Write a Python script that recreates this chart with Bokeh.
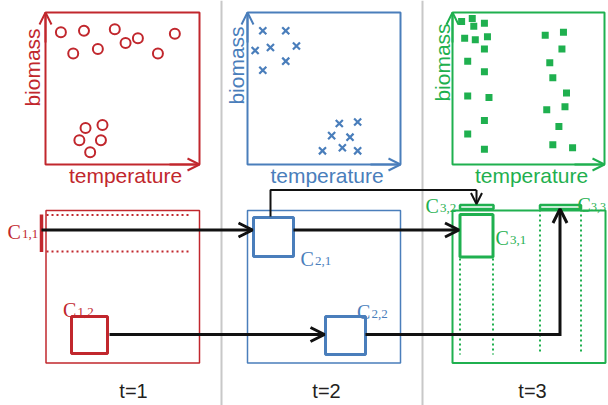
import math
from bokeh.plotting import figure
from bokeh.models import Range1d, Arrow, OpenHead
from bokeh.core.properties import value
from bokeh.embed import file_html
from bokeh.resources import INLINE

# ---------------- data (temperature / biomass, panel units 0-100) ----------------
temp_t1 = [10, 25, 45, 60, 84, 18, 34, 52, 73, 37, 26, 22, 36, 29]
bio_t1 = [87, 88, 89, 83, 86, 73, 76, 80, 73, 26, 24, 16, 16, 8]

temp_t2 = [10, 25, 5, 15, 32, 25, 10, 60, 72, 55, 67, 62, 49, 72]
bio_t2 = [88, 88, 75, 77, 78, 68, 62, 27, 28, 19, 18, 11, 9, 9]

temp_t3 = [6, 13, 14, 21, 8, 15, 23, 21, 10, 21, 10, 24, 21, 10, 21,
           61, 73, 72, 64, 66, 75, 62, 74, 70, 66, 79]
bio_t3 = [94, 96, 91, 93, 83, 82, 84, 76, 68, 61, 45, 44, 29, 20, 10,
          85, 87, 76, 67, 57, 47, 36, 38, 25, 13, 11]

time_labels = ["t=1", "t=2", "t=3"]
axis_x_label = "temperature"
axis_y_label = "biomass"

RED = "#c1272d"
BLUE = "#4a7ebb"
GREEN = "#1fb04f"
GRAY = "#c8c8c8"
BLACK = "#111111"

SANS = value("Liberation Sans")
SERIF = value("Liberation Serif")

# ---------------- figure in picture-pixel coordinates ----------------
W, H = 608, 405
X0, X1, Y0, Y1 = 0, W, 0, H
p = figure(width=W, height=H, x_range=Range1d(X0, X1), y_range=Range1d(Y1, Y0),
           output_backend="svg", toolbar_location=None, min_border=0)
p.axis.visible = False
p.grid.visible = False
p.outline_line_color = None

top_panels = [(45, 199, 12, 164), (247, 400, 12, 164), (452, 604, 12, 164)]
colors = [RED, BLUE, GREEN]

# gray separators
for xs in (221, 422):
    p.line([xs, xs], [0, 410], line_color=GRAY, line_width=2)

# ---------------- top scatter panels ----------------
series = [(temp_t1, bio_t1, "circle", 10), (temp_t2, bio_t2, "x", 10), (temp_t3, bio_t3, "square", 7)]
ylab_x = [32, 236, 442]
ylab_y = [67, 65, 62]
for i, ((L, R, T, B), col, (tx, by, mk, sz)) in enumerate(zip(top_panels, colors, series)):
    p.quad(left=[L], right=[R], top=[T], bottom=[B], fill_color=None, line_color=col, line_width=2)
    p.add_layout(Arrow(end=OpenHead(size=12, line_color=col, line_width=2),
                       x_start=L, y_start=T + 30, x_end=L, y_end=T, line_color=col, line_width=2))
    p.add_layout(Arrow(end=OpenHead(size=12, line_color=col, line_width=2),
                       x_start=R - 30, y_start=B, x_end=R, y_end=B, line_color=col, line_width=2))
    xr = Range1d((X0 - L) / (R - L) * 100, (X1 - L) / (R - L) * 100)
    yr = Range1d((B - Y1) / (B - T) * 100, (B - Y0) / (B - T) * 100)
    p.extra_x_ranges[f"t{i}"] = xr
    p.extra_y_ranges[f"b{i}"] = yr
    if mk == "circle":
        p.scatter(tx, by, x_range_name=f"t{i}", y_range_name=f"b{i}", marker="circle", size=sz,
                  fill_color=None, line_color=col, line_width=2)
    elif mk == "x":
        p.scatter(tx, by, x_range_name=f"t{i}", y_range_name=f"b{i}", marker="x", size=sz,
                  line_color=col, line_width=2.2)
    else:
        p.scatter(tx, by, x_range_name=f"t{i}", y_range_name=f"b{i}", marker="square", size=sz,
                  fill_color=col, line_color=None)
    p.text(x=[(L + R) / 2 + 3], y=[175], text=[axis_x_label], text_font=SANS, text_font_size="21px",
           text_color=col, text_align="center", text_baseline="middle")
    p.text(x=[ylab_x[i]], y=[ylab_y[i]], text=[axis_y_label], text_font=SANS, text_font_size="21px",
           text_color=col, text_align="center", text_baseline="middle", angle=math.pi / 2)

# ---------------- lower boxes ----------------
low_boxes = [(45.5, 199, 210, 362.5), (247, 400, 210, 362.5), (452, 605, 210, 362.5)]
for (L, R, T, B), col in zip(low_boxes, colors):
    p.quad(left=[L], right=[R], top=[T], bottom=[B], fill_color=None, line_color=col,
           line_width=2 if col == GREEN else 1.5)

for yy in (214.5, 251):
    p.line([46, 189], [yy, yy], line_color=RED, line_width=2, line_dash="2 3")
p.line([41, 41], [214, 251.5], line_color=RED, line_width=3.5)
p.quad(left=[71], right=[107], top=[316], bottom=[353], fill_color=None, line_color=RED, line_width=3)

p.quad(left=[253], right=[293], top=[217], bottom=[256], fill_color=None, line_color=BLUE, line_width=3)
p.quad(left=[325], right=[365], top=[316], bottom=[354], fill_color=None, line_color=BLUE, line_width=3)

p.quad(left=[459.5], right=[493], top=[204.5], bottom=[208.5], fill_color=None, line_color=GREEN, line_width=2.5)
p.quad(left=[539.5], right=[580.5], top=[204.5], bottom=[208.5], fill_color=None, line_color=GREEN, line_width=2.5)
p.quad(left=[459.5], right=[492.5], top=[214], bottom=[256.5], fill_color=None, line_color=GREEN, line_width=3)
for xx, y0 in ((459.5, 258), (492.5, 258), (539.5, 209), (580.5, 209)):
    p.line([xx, xx], [y0, 354], line_color=GREEN, line_width=2, line_dash="2 3")

# ---------------- black flow arrows ----------------
def arrow(x0, y0, x1, y1, w=3, size=14):
    p.add_layout(Arrow(end=OpenHead(size=size, line_color=BLACK, line_width=w),
                       x_start=x0, y_start=y0, x_end=x1, y_end=y1, line_color=BLACK, line_width=w))

arrow(41, 229.5, 252, 229.5)
arrow(293, 229.5, 458.5, 229.5)
arrow(109, 334, 324, 334)
p.line([365, 559.5], [334, 334], line_color=BLACK, line_width=3)
arrow(559.5, 335.5, 559.5, 208.5)
p.line([270, 270, 476], [216, 189.5, 189.5], line_color=BLACK, line_width=2)
arrow(476, 189.5, 476, 203.5, w=2, size=11)

# ---------------- labels ----------------
def clabel(x, y, sub, col, dx=14.5, dy=2, fs="13px"):
    p.text(x=[x], y=[y], text=["C"], text_font=SERIF, text_font_size="20px", text_color=col,
           text_align="left", text_baseline="alphabetic")
    p.text(x=[x + dx], y=[y + dy], text=[sub], text_font=SERIF, text_font_size=fs, text_color=col,
           text_align="left", text_baseline="alphabetic")

clabel(7, 231.5, "1,1", RED)
clabel(62.5, 309, "1,2", RED)
clabel(300, 258, "2,1", BLUE)
clabel(356.5, 311, "2,2", BLUE)
clabel(495, 237, "3,1", GREEN)
clabel(425, 205, "3,2", GREEN)
clabel(577, 204, "3,3", GREEN, dx=13.5, fs="12px")

p.text(x=[133, 326, 532], y=[390, 390, 390], text=time_labels, text_font=SANS, text_font_size="20px",
       text_color="#231f20", text_align="center", text_baseline="middle")

open("out.html", "w").write(file_html(p, INLINE))
